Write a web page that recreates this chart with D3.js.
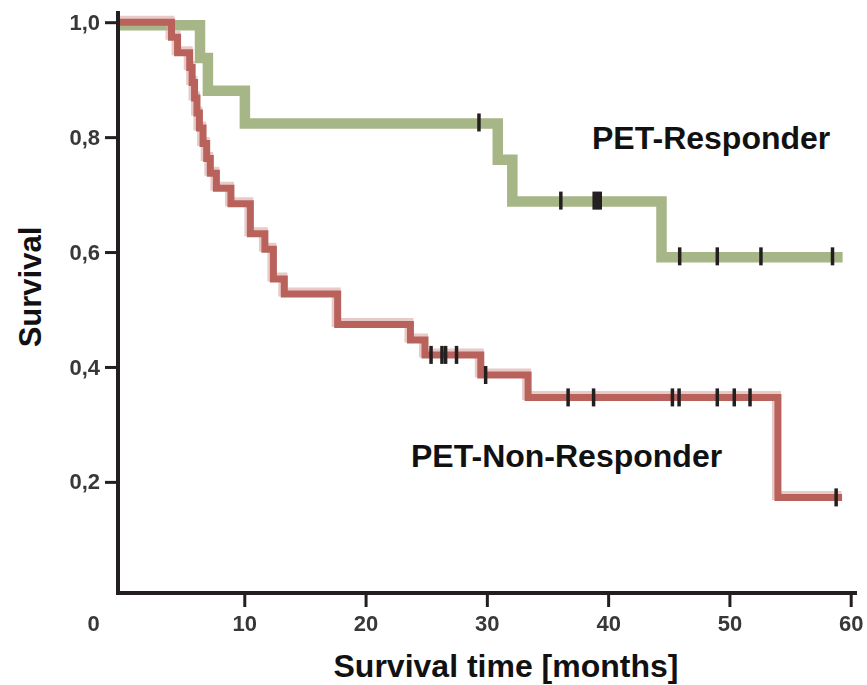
<!DOCTYPE html>
<html>
<head>
<meta charset="utf-8">
<script src="https://cdn.jsdelivr.net/npm/d3@7"></script>
<style>
  html, body { margin: 0; padding: 0; background: #fff; }
  svg { display: block; font-family: "Liberation Sans", Arial, sans-serif; }
</style>
</head>
<body>
<div id="chart"></div>
<script>
// Kaplan-Meier steps (time in months, survival fraction)
const responderTimes = [0, 6.35, 7.0, 10.05, 30.9, 32.1, 44.4];
const responderSurvival = [1.0, 0.943, 0.886, 0.829, 0.766, 0.693, 0.596];
const responderEnd = 58.9;
const responderCensored = [29.35, 36.1, 38.85, 39.1, 39.35, 45.9, 49.0, 52.6, 58.5];

const nonResponderTimes = [0, 4.0, 4.5, 5.5, 5.7, 5.9, 6.1, 6.3, 6.6, 6.9, 7.2, 7.7,
  8.9, 10.5, 11.7, 12.4, 13.3, 17.7, 23.7, 24.9, 29.5, 33.4, 54.0];
const nonResponderSurvival = [1.0, 0.974, 0.947, 0.921, 0.895, 0.868, 0.842, 0.816,
  0.789, 0.763, 0.737, 0.711, 0.684, 0.632, 0.605, 0.553, 0.527, 0.474, 0.447, 0.421,
  0.386, 0.347, 0.173];
const nonResponderEnd = 59.0;
const nonResponderCensored = [25.4, 26.3, 26.6, 27.5, 29.9, 36.7, 38.8, 45.3, 45.85,
  49.0, 50.4, 51.7, 58.8];

const xTicks = [0, 10, 20, 30, 40, 50, 60];
const yTicks = [0.2, 0.4, 0.6, 0.8, 1.0];

const W = 867, H = 685;
const x = d3.scaleLinear().domain([0, 60]).range([123, 850.7]);
const y = d3.scaleLinear().domain([0, 1]).range([596.8, 22.2]);

const svg = d3.select('#chart').append('svg')
  .attr('width', W).attr('height', H);

const defs = svg.append('defs');
defs.append('filter').attr('id', 'soft')
  .append('feGaussianBlur').attr('stdDeviation', 0.55);

// turn parallel arrays into step points, adding the last follow-up time
function stepPoints(times, surv, end) {
  const pts = times.map((t, i) => ({ t: t, s: surv[i] }));
  pts.push({ t: end, s: surv[surv.length - 1] });
  return pts;
}
function survivalAt(times, surv, t) {
  let s = surv[0];
  for (let i = 0; i < times.length; i++) if (times[i] <= t) s = surv[i];
  return s;
}

const line = d3.line()
  .curve(d3.curveStepAfter)
  .x(d => x(d.t))
  .y(d => y(d.s));

const curves = svg.append('g').attr('class', 'curves');

// PET-Responder (green)
curves.append('path')
  .datum(stepPoints(responderTimes, responderSurvival, responderEnd))
  .attr('d', line)
  .attr('transform', 'translate(0,3)')
  .attr('fill', 'none')
  .attr('stroke', '#a6b687')
  .attr('stroke-width', 10.5)
  .attr('stroke-linecap', 'square');

// PET-Non-Responder (red), with the pale shadow band
const redPts = stepPoints(nonResponderTimes, nonResponderSurvival, nonResponderEnd);
curves.append('path')
  .datum(redPts)
  .attr('d', line)
  .attr('transform', 'translate(-1.5,-2)')
  .attr('fill', 'none')
  .attr('stroke', '#d9a6a3')
  .attr('stroke-opacity', 0.6)
  .attr('stroke-width', 9)
  .attr('stroke-linecap', 'square');
curves.append('path')
  .datum(redPts)
  .attr('d', line)
  .attr('fill', 'none')
  .attr('stroke', '#b9625b')
  .attr('stroke-width', 7)
  .attr('stroke-linecap', 'square');

// censor marks
function censorMarks(times, surv, cens, dy) {
  curves.append('g').selectAll('rect')
    .data(cens)
    .join('rect')
    .attr('x', d => x(d) - 1.75)
    .attr('y', d => y(survivalAt(times, surv, d)) + dy - 9)
    .attr('width', 3.5)
    .attr('height', 18)
    .attr('fill', '#231f20');
}
censorMarks(responderTimes, responderSurvival, responderCensored, 2);
censorMarks(nonResponderTimes, nonResponderSurvival, nonResponderCensored, 0);

// axes
const yAxis = svg.append('g')
  .attr('transform', 'translate(118,0)')
  .call(d3.axisLeft(y).tickValues(yTicks).tickSize(13).tickPadding(5)
    .tickSizeOuter(0)
    .tickFormat(d => d.toFixed(1).replace('.', ',')));

const xAxis = svg.append('g')
  .attr('transform', 'translate(0,593)')
  .call(d3.axisBottom(x).tickValues(xTicks).tickSize(14).tickPadding(8)
    .tickSizeOuter(0).tickFormat(d3.format('d')));

[yAxis, xAxis].forEach(a => {
  a.select('.domain').remove();
  a.selectAll('.tick line').attr('stroke', '#231f20').attr('stroke-width', 3);
  a.selectAll('.tick text')
    .attr('fill', '#383838')
    .attr('font-size', 22)
    .attr('font-weight', 'bold')
    .attr('font-family', '"Liberation Sans", Arial, sans-serif')
    .attr('filter', 'url(#soft)');
});
xAxis.selectAll('.tick').filter(d => d === 0).select('line').remove();
xAxis.selectAll('.tick').filter(d => d === 0).select('text').attr('x', -30);

// axis lines
svg.append('line')
  .attr('x1', 118).attr('x2', 118).attr('y1', 11).attr('y2', 595)
  .attr('stroke', '#231f20').attr('stroke-width', 4);
svg.append('line')
  .attr('x1', 116).attr('x2', 857).attr('y1', 593).attr('y2', 593)
  .attr('stroke', '#231f20').attr('stroke-width', 4);

// titles and labels
svg.append('text')
  .attr('transform', 'translate(41,287) rotate(-90)')
  .attr('text-anchor', 'middle')
  .attr('font-size', 31).attr('font-weight', 'bold').attr('fill', '#111')
  .text('Survival');

svg.append('text')
  .attr('x', 506).attr('y', 677)
  .attr('text-anchor', 'middle')
  .attr('font-size', 32).attr('font-weight', 'bold').attr('fill', '#111')
  .text('Survival time [months]');

svg.append('text')
  .attr('x', 592).attr('y', 149)
  .attr('font-size', 32).attr('font-weight', 'bold').attr('fill', '#111')
  .text('PET-Responder');

svg.append('text')
  .attr('x', 411).attr('y', 467)
  .attr('font-size', 32).attr('font-weight', 'bold').attr('fill', '#111')
  .text('PET-Non-Responder');
</script>
</body>
</html>
